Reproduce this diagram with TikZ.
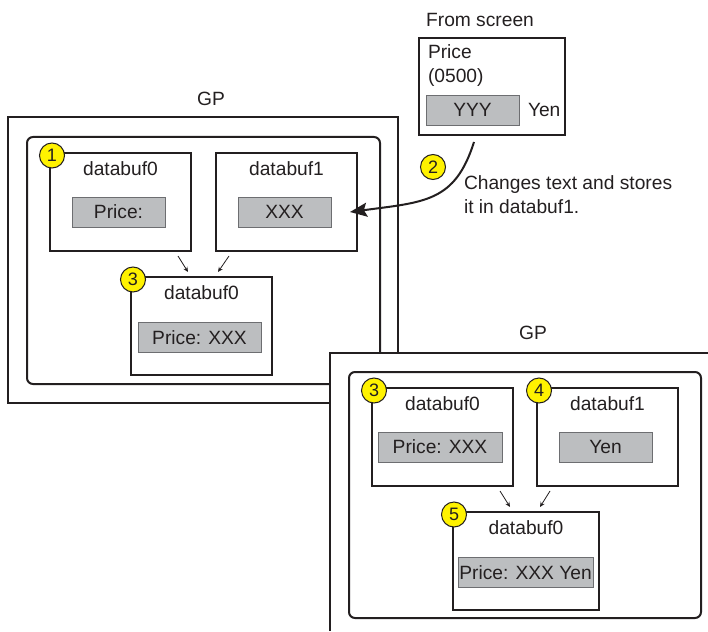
\documentclass[tikz,border=0pt]{standalone}
\usepackage{fontspec}
\setmainfont{Liberation Sans}
\usetikzlibrary{arrows.meta, positioning, calc}
\definecolor{Ink}{HTML}{231F20}
\definecolor{FieldGray}{HTML}{BCBEC0}
\definecolor{FieldEdge}{HTML}{6D6E71}
\definecolor{Marker}{HTML}{FFF200}

\begin{document}
\begin{tikzpicture}[
    x=1pt, y=-1pt,
    frame/.style={draw=Ink, line width=2.6pt, inner sep=0pt, outer sep=0pt},
    panel/.style={draw=Ink, line width=2pt, rounded corners=6pt, inner sep=0pt, outer sep=0pt},
    buf/.style={
        draw=Ink, line width=1.3pt, fill=white, minimum width=141pt,
        minimum height=98pt, inner sep=0pt, outer sep=0pt
    },
    field/.style={
        draw=FieldEdge, line width=0.9pt, fill=FieldGray, minimum height=30pt,
        inner sep=0pt, outer sep=0pt, text=Ink
    },
    num/.style={
        circle, draw=Ink, line width=1pt, fill=Marker, minimum size=25pt,
        inner sep=0pt, text=Ink, font=\fontsize{18}{20}\selectfont
    },
    lbl/.style={inner sep=0pt, outer sep=0pt, text=Ink},
    arr/.style={-{Stealth[length=5pt, width=4.5pt]}, line width=0.8pt, draw=Ink},
    bigarr/.style={-{Stealth[length=17pt, width=14pt, inset=3pt]}, line width=2pt, draw=Ink},
    every node/.style={font=\fontsize{19.2}{24}\selectfont}
]
\useasboundingbox (0,0) rectangle (708,631);

% =============================================
% GP: BEFORE
% =============================================
\node[frame, minimum width=390pt, minimum height=286pt] (gpa) at (203,260) {};
\node[lbl] (gpatitle) at (211,99) {GP};
\node[panel, minimum width=353pt, minimum height=247pt] (pana) at (203.5,260.5) {};

\node[buf] (bufa0) at (120.5,202) {};
\node[buf, right=25pt of bufa0] (bufa1) {};
\node[buf, below=26pt of $(bufa0.south)!0.5!(bufa1.south)$, xshift=-2pt] (bufa2) {};

\node[lbl, below=9pt of bufa0.north] (bufa0lbl) {databuf0};
\node[lbl, below=9pt of bufa1.north] (bufa1lbl) {databuf1};
\node[lbl, below=9pt of bufa2.north] (bufa2lbl) {databuf0};

\node[field, minimum width=93pt] (bufa0val) at ([xshift=-2pt, yshift=-10pt]bufa0.center) {Price:};
\node[field, minimum width=93pt] (bufa1val) at ([xshift=-2pt, yshift=-10pt]bufa1.center) {XXX};
\node[field, minimum width=123pt] (bufa2val) at ([xshift=-2pt, yshift=-11.5pt]bufa2.center) {Price: XXX};

\node[num] (na1) at ([xshift=2pt, yshift=-2.5pt]bufa0.north west) {1};
\node[num] (na3) at ([xshift=2pt, yshift=-2.5pt]bufa2.north west) {3};

% merge arrows
\draw[arr] ([xshift=-13pt, yshift=-5pt]bufa0.south east) -- ([xshift=-13.5pt, yshift=5pt]bufa2.north);
\draw[arr] ([xshift=13pt, yshift=-5pt]bufa1.south west) -- ([xshift=16.5pt, yshift=5pt]bufa2.north);

% =============================================
% SCREEN INPUT
% =============================================
\node[buf, minimum width=146pt, minimum height=97pt] (screen) at (492,86.5) {};
\node[lbl, above=11pt of screen, xshift=-12pt] (screenttl) {From screen};
\node[lbl, align=left, anchor=north west] (screentxt)
    at ([xshift=9pt, yshift=-7pt]screen.north west) {Price\\(0500)};
\node[field, minimum width=93pt, anchor=south west] (yyy)
    at ([xshift=7pt, yshift=10pt]screen.south west) {YYY};
\node[lbl, right=9pt of yyy] (yen) {Yen};

\node[num] (n2) at (433,167) {2};
\node[lbl, align=left, anchor=north west] (note)
    at ([xshift=18pt, yshift=-9pt]n2.east) {Changes text and stores\\it in databuf1.};

\draw[bigarr] ([xshift=-18pt, yshift=-7pt]screen.south)
    .. controls +(-19,60) and +(75,-10) .. ([xshift=-7pt, yshift=-10pt]bufa1.east);

% =============================================
% GP: AFTER
% =============================================
\fill[white] (330,353) rectangle (708,631);
\draw[frame] (330,631) |- (708,353);
\node[lbl] (gpbtitle) at (533,333) {GP};
\node[panel, minimum width=352pt, minimum height=246pt] (panb) at (525,495) {};

\node[buf] (bufb0) at (442.5,437) {};
\node[buf, right=24pt of bufb0] (bufb1) {};
\node[buf, minimum width=146pt, below=26pt of $(bufb0.south)!0.5!(bufb1.south)$, xshift=1pt] (bufb2) {};

\node[lbl, below=9pt of bufb0.north] (bufb0lbl) {databuf0};
\node[lbl, below=9pt of bufb1.north] (bufb1lbl) {databuf1};
\node[lbl, below=9pt of bufb2.north] (bufb2lbl) {databuf0};

\node[field, minimum width=124pt] (bufb0val) at ([xshift=-2.5pt, yshift=-10pt]bufb0.center) {Price: XXX};
\node[field, minimum width=93pt] (bufb1val) at ([xshift=-2pt, yshift=-10pt]bufb1.center) {Yen};
\node[field, minimum width=135pt] (bufb2val) at ([xshift=-0.5pt, yshift=-11.5pt]bufb2.center) {Price: XXX Yen};

\node[num] (nb3) at ([xshift=2pt, yshift=-2.5pt]bufb0.north west) {3};
\node[num] (nb4) at ([xshift=2pt, yshift=-2.5pt]bufb1.north west) {4};
\node[num] (nb5) at ([xshift=1pt, yshift=-2.5pt]bufb2.north west) {5};

% merge arrows
\draw[arr] ([xshift=-13pt, yshift=-5pt]bufb0.south east) -- ([xshift=-16pt, yshift=5pt]bufb2.north);
\draw[arr] ([xshift=13pt, yshift=-5pt]bufb1.south west) -- ([xshift=14pt, yshift=5pt]bufb2.north);

\end{tikzpicture}
\end{document}
